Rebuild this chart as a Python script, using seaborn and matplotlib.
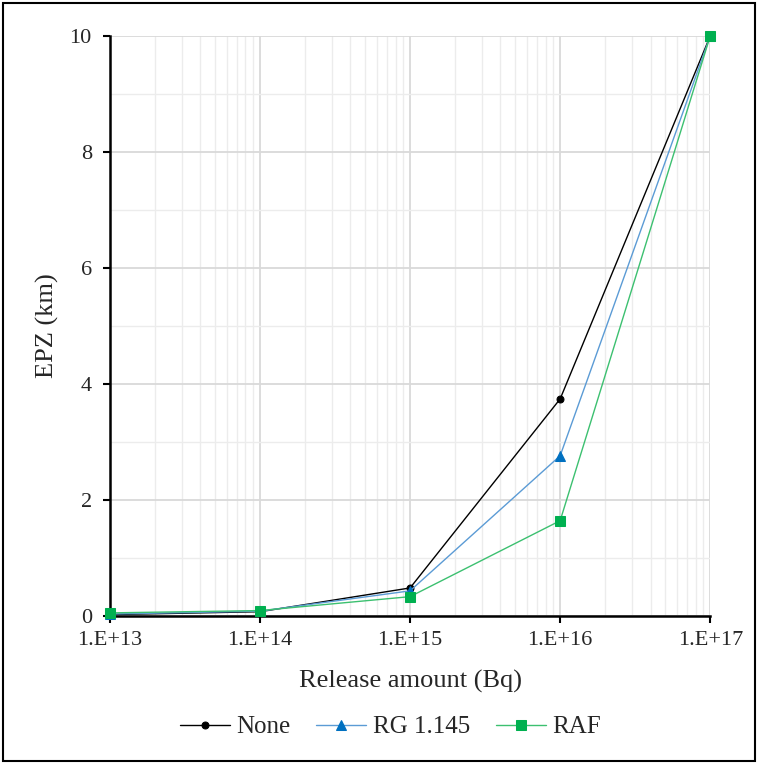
import numpy as np
import pandas as pd
import matplotlib
matplotlib.use("Agg")
import matplotlib.pyplot as plt
import seaborn as sns
from matplotlib.ticker import LogLocator, MultipleLocator, FixedFormatter, FixedLocator

release = [1e13, 1e14, 1e15, 1e16, 1e17]
epz_none = [0.02, 0.07, 0.48, 3.74, 10.0]
epz_rg = [0.03, 0.08, 0.43, 2.76, 10.0]
epz_raf = [0.05, 0.09, 0.33, 1.64, 10.0]
tick_labels = ["1.E+13", "1.E+14", "1.E+15", "1.E+16", "1.E+17"]

df = pd.DataFrame({
    "release": release * 3,
    "epz": epz_none + epz_rg + epz_raf,
    "case": ["None"] * 5 + ["RG 1.145"] * 5 + ["RAF"] * 5,
})

sns.set_style("white")
plt.rcParams["font.family"] = ["Liberation Serif", "DejaVu Serif"]

fig = plt.figure(figsize=(7.58, 7.64), dpi=100)
ax = fig.add_axes([0.145, 0.194, 0.792, 0.759])

styles = {
    "None": dict(color="#000000", mfc="#000000", marker="o", ms=5),
    "RG 1.145": dict(color="#5B9BD5", mfc="#0070C0", marker="^", ms=7),
    "RAF": dict(color="#3CC070", mfc="#00B050", marker="s", ms=7),
}
for name in ["None", "RG 1.145", "RAF"]:
    sub = df[df["case"] == name]
    st = styles[name]
    sns.lineplot(data=sub, x="release", y="epz", ax=ax, color=st["color"], lw=1,
                 marker=st["marker"], markersize=st["ms"], markerfacecolor=st["mfc"],
                 markeredgecolor=st["mfc"], label=name, zorder=3, clip_on=False)

ax.set_xscale("log")
ax.set_xlim(1e13, 1e17)
ax.set_ylim(0, 10)
ax.xaxis.set_major_locator(FixedLocator(release))
ax.xaxis.set_major_formatter(FixedFormatter(tick_labels))
ax.xaxis.set_minor_locator(LogLocator(base=10, subs=np.arange(2, 10)))
ax.xaxis.set_minor_formatter(plt.NullFormatter())
ax.yaxis.set_major_locator(MultipleLocator(2))
ax.yaxis.set_minor_locator(MultipleLocator(1))

ax.grid(which="major", color="#d9d9d9", lw=1.3, zorder=0)
ax.grid(which="minor", color="#ececec", lw=1.0, zorder=0)
ax.set_axisbelow(True)

for s in ["top", "right"]:
    ax.spines[s].set_visible(False)
for s in ["left", "bottom"]:
    ax.spines[s].set_color("black")
    ax.spines[s].set_linewidth(1.8)

ax.tick_params(axis="both", which="major", direction="out", length=5, width=1.5,
               color="black", labelsize=16, bottom=True, left=True)
ax.tick_params(axis="x", which="major", pad=6)
ax.tick_params(axis="y", which="major", pad=8)
ax.tick_params(axis="both", which="minor", length=0)

ax.set_xlabel("Release amount (Bq)", fontsize=19)
ax.set_ylabel("EPZ (km)", fontsize=19)
ax.xaxis.set_label_coords(0.5, -0.093)
ax.yaxis.set_label_coords(-0.084, 0.5)

ax.legend(loc="center", bbox_to_anchor=(0.467, -0.192), ncol=3, frameon=False,
          fontsize=18, handlelength=2.0, columnspacing=1.05, handletextpad=0.25,
          borderaxespad=0)

fig.patches.append(plt.Rectangle((0.004, 0.004), 0.992, 0.992, transform=fig.transFigure,
                                 fill=False, edgecolor="black", lw=1.5))

fig.savefig("out.png", dpi=100)
